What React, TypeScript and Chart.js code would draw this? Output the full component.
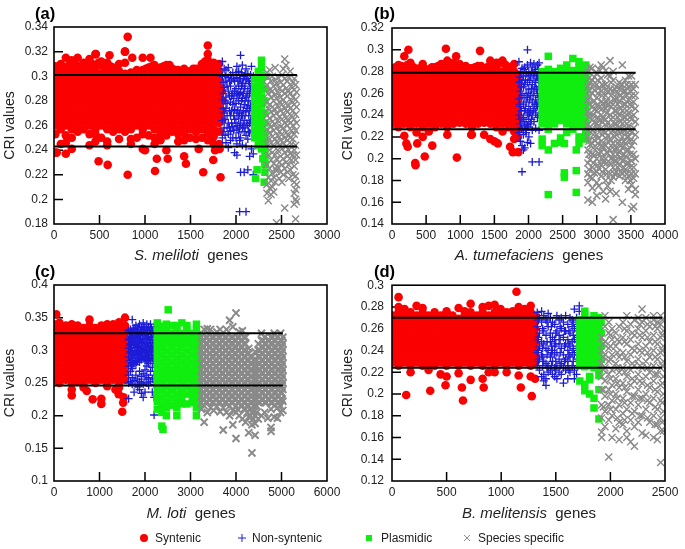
import React, { useEffect, useRef } from "react";
import { Chart, registerables } from "chart.js";
Chart.register(...registerables);

type Cols = number[][];
// every row: x value, then the CRI values (in thousandths) read at about that x
const aRed: Cols = [
[15,238,253,260,266,272,278,284,290,296,302,308],[75,245,257,263,269,275,281,287,293,299,305,310],[130,237,246,252,260,266,272,278,284,290,296,302,307,315],
[195,241,250,257,263,269,275,281,287,293,299,305,313],[260,255,260,266,272,278,284,290,296,302,308,315],[325,257,263,269,275,281,287,293,299,305,311],
[390,244,253,260,266,272,278,284,290,296,302,308,314],[455,247,253,257,263,269,275,281,287,293,299,305,318],[520,250,260,266,272,278,284,290,296,302,309,312],
[585,244,247,257,263,269,275,281,287,293,299,305,311],[650,255,260,266,272,278,284,290,296,302,307],[715,249,257,263,269,275,281,287,293,299,304,310],
[780,255,260,266,272,278,284,290,296,302,311,320],[845,245,249,257,263,269,275,281,287,293,299,303],[910,250,260,266,272,278,284,290,296,302,305],
[975,241,253,257,263,269,275,281,287,293,299,305,315],[1040,252,260,266,272,278,284,290,296,302,307],[1105,245,250,257,263,269,275,281,287,293,299,305,309],
[1170,248,254,260,266,272,278,284,290,296,302,307],[1235,240,252,257,263,269,275,281,287,293,299,305,309],[1300,255,260,266,272,278,284,290,296,302,306],
[1365,247,253,257,263,269,275,281,287,293,299,305],[1430,248,254,260,266,272,278,284,290,296,302,306],[1495,250,257,263,269,275,281,287,293,299,304],
[1560,249,255,260,266,272,278,284,290,296,302,306],[1625,250,257,263,269,275,281,287,293,299,305,310],[1690,248,254,260,266,272,278,284,290,296,302,308,313,318],
[1755,245,251,257,263,269,275,281,287,293,299,305,311],[1815,245,255,262,268,274,280,286,292,298,304,310],[1845,264,272,280,288],
[810,332],[1690,325],[780,320],[460,318],[610,317],[860,315],[1060,315],[490,231],[590,228],[810,220],[1110,223],[1130,233],[1250,233],[1430,235],[1450,229],[1640,222],[1750,232],[1830,218],[30,238],[1000,240],[1590,241],[1770,240],[1820,241],
[45,306],[165,309],[230,310],[290,308],[355,307],[420,310],[490,311],[555,306],[620,308],[685,306],[1010,306],[1075,308],[1140,306],[1205,308],[1270,309],[1335,305],[1400,304],[1530,306],[1595,306],[1660,312],[1725,309]];
const aBlue: Cols = [
[1850,312,300,281,264,250],[1870,306,291,270,258],[1890,305,296,283,274,246],[1915,307,299,288,262,253,242],[1940,301,292,279,268,255,248],[1965,303,286,277,259,250],[1985,296,288,273,265,238],
[2010,308,299,284,270,257,245,236],[2030,304,292,280,266,254],[2050,317,298,287,275,262,250,222],[2070,309,294,282,268,258,244],[2090,300,290,277,264,255,222],[2110,306,297,283,271,252,243,190],
[2130,302,288,276,260,249,224],[2150,294,286,272,262,254,235],[2170,308,296,280,268,256,241],[2190,300,288,276,264,237,220],[2040,190],
[1860,295,286,274,255],[1880,300,280,265,252],[1902,292,278,268,258],[1928,296,284,272,258],[1952,297,284,272,262],[1975,298,282,268,256],[2000,303,290,278,262,250],[2020,296,286,272,260],[2040,298,285,270,258,248],[2060,303,292,280,268],[2080,298,286,272,260],[2100,302,292,280,268,258],[2120,298,284,274,262],[2140,296,280,268,255],[2160,301,290,276,264]];
const aGreen: Cols = [[2205,250,256,262,268,274,280,286,292,298],[2245,244,250,256,262,268,274,280,286,292,298,304],[2280,241,247,253,259,265,271,277,283,289,295,301,307,313],[2318,230,236,242,248,254,262,270,280,290,300,228,222],[2215,217],[2232,224],[2310,214],[2295,233]];
const aGray: Cols = [
[2340,205,212,228,245,257,268,279,293,303],[2355,199,218,236,250,262,274,286,299],[2370,209,225,240,254,266,277,289,305],[2385,204,215,232,246,259,271,283,296],[2400,210,221,238,251,263,275,288,300],
[2415,206,218,229,243,256,268,280,292],[2430,214,225,236,249,261,273,285,297,307],[2445,181,223,233,247,258,270,282,294],[2460,226,240,252,264,276,287,299],[2475,217,230,244,255,267,279,290],
[2490,222,235,248,259,272,283,295],[2505,214,228,241,253,265,277,288,301],[2520,220,233,246,258,270,281,293,306],[2535,193,225,238,250,262,274,286,298,314],[2550,230,243,254,266,278,290,309],
[2565,222,235,248,260,271,284,296],[2580,217,228,240,252,264,276,288,299],[2595,224,237,250,262,274,286,304],[2610,232,245,256,268,280,292],[2625,220,236,249,260,272,283,295],
[2640,196,205,214,227,240,253,265,277,289,298],[2655,184,200,208,219,232,244,256,269,281,293],[2665,198,212,236,262,275,287]];

const bRed: Cols = [
[12,232,238,244,250,256,262,268,274,280],[95,229,235,241,247,253,259,265,271,277,283,286],[180,221,232,238,244,250,256,262,268,274,280,294],[270,229,235,241,247,253,259,265,271,277,283,288],
[360,224,232,238,244,250,256,262,268,274,280],[450,220,229,235,241,247,253,259,265,271,277,283,287],[540,225,232,238,244,250,256,262,268,274,280],[630,229,235,241,247,253,259,265,271,277,284],
[720,232,238,244,250,256,262,268,274,280,287],[810,222,229,235,241,247,253,259,265,271,277,283,290],[900,232,238,244,250,256,262,268,274,280,288],[990,233,235,241,247,253,259,265,271,277,283,287],
[1080,232,238,244,250,256,262,268,274,280,285],[1170,222,229,235,241,247,253,259,265,271,277,283],[1260,232,238,244,250,256,262,268,274,280,285],[1350,222,233,235,241,247,253,259,265,271,277,283],
[1440,218,232,238,244,250,256,262,268,274,280,290],[1530,229,235,241,247,253,259,265,271,277,283,288],[1620,225,232,238,244,250,256,262,268,274,280,290],[1710,229,235,241,247,253,259,265,271,277,284],
[1790,218,225,232,238,244,250,256,262,268,274,280,287],[1845,220,228,235,241,247,253,259,265,271,277],
[240,300],[790,301],[1290,299],[940,294],[345,194],[340,196],[480,202],[950,201],[370,214],[590,212],[230,211],[210,214],[1770,206],[1850,206],[1730,211],[1550,214],[1500,216],[1160,222],
[50,284],[140,285],[225,286],[315,284],[405,283],[495,282],[585,284],[675,285],[765,286],[855,287],[945,285],[1035,284],[1125,283],[1215,284],[1305,285],[1395,284],[1485,287],[1575,288],[1665,286],[1755,284]];
const bBlue: Cols = [
[1860,289,270,255,240,224],[1880,280,262,248,232,216],[1905,283,272,258,236,228,212,188],[1925,276,266,250,238,222,208],[1945,284,268,244,230,210],[1965,278,260,252,234,226,224],
[1985,286,270,256,242,231,215,300],[2005,280,264,248,236,229,220],[2030,288,276,258,244,232,214],[2055,284,268,252,240,226,197],[2080,287,274,262,246,234],[2105,282,270,254,242,228],
[2130,286,276,260,248,238],[2155,288,278,266,252,240,226,197],
[1870,275,250,236],[1895,266,244,228],[1935,282,256,234],[1955,272,246,226],[1995,276,260,240],[2018,272,254,242],[2042,280,264,236],[2068,278,258,244],[2092,280,266,250],[2118,276,264,250],[2145,282,272,256]];
const bGreen: Cols = [
[2200,232,238,244,250,256,262,268,274,280,218,212],[2290,227,233,239,245,251,257,263,269,275,282,208,167,294],[2380,232,238,244,250,256,262,268,274,280,214],[2470,235,241,247,253,259,265,271,277,283,215,219],
[2525,183,187,214],[2560,232,238,244,250,256,262,268,274,280,286,224],[2650,227,233,239,245,251,257,263,269,275,281,292,240],[2700,189,169,208],[2740,230,236,242,248,254,260,266,272,278,284,289,214,220],[2840,226,232,238,244,250,256,262,268,274,280,286,218,224]];
const bGray: Cols = [
[2870,162,178,186,196,208,220,231,243,254,266,280],[2935,160,173,182,192,204,214,226,236,248,260,272,283],[3000,166,178,188,200,210,222,232,244,256,268,278],[3065,184,194,206,216,228,240,252,262,274,286],[3130,163,180,190,200,212,224,236,246,258,268,281],
[3195,170,186,196,208,218,230,240,252,264,276,290],[3240,144,183,192,204,214,226,238,250,262,272,280],[3285,168,188,198,210,222,232,244,256,266],[3330,184,194,206,216,228,240,252,264,270],[3375,160,186,198,210,220,232,244,256,268,286],
[3420,180,190,202,214,226,238,250,262,272],[3465,172,184,196,208,220,230,242,254,266,276],[3510,154,176,186,198,212,224,236,248,258,268,276],[3540,156,182,192,204,216,228,240,252,264],[3565,167,172,186,200,222,234,246,258,268],
[2900,183,199,213,229,241,257,269,284],[2965,187,203,217,233,245,263,275],[3030,175,191,205,219,235,247,265,282],[3095,170,197,211,225,237,251,267,284],[3160,175,205,221,233,249,261,277],
[2885,190,204,216,226,238,250,262,274],[2950,196,210,222,240,252,268],[3015,194,214,228,238,250,260,272],[3080,188,200,212,222,234,246,258,268],[3145,186,196,206,218,230,242,252,264],[3210,180,200,212,224,236,248,258,270],[3262,186,198,208,220,232,244,254,264],[3308,192,204,214,226,238,250,260],[3352,188,200,212,224,234,246,258,268],[3398,192,204,216,226,238,250,262],[3442,186,196,208,220,232,244,258,268],[3490,180,192,204,216,226,238,250,262]];

const cRed: Cols = [
[8,255,266,276,287,297,308,318,329,340],[120,250,260,271,281,292,302,313,323,334,342],[260,255,266,276,287,297,308,318,329,338],[390,231,240,250,260,271,281,292,302,313,323,334,340],
[520,252,260,266,276,287,297,308,318,329,338],[650,243,250,260,271,281,292,302,313,323,334],[780,255,266,276,287,297,308,318,329,338,347],[910,250,260,271,281,292,302,313,323,334],[1040,218,226,255,266,276,287,297,308,318,329,338],
[1170,245,250,260,271,281,292,302,313,323,334,340],[1300,255,266,276,287,297,308,318,329,340],[1430,243,250,260,271,281,292,302,313,323,334,343],[1560,255,266,276,287,297,308,318,329,338,350],
[50,355],[1500,206],[1520,220],[1530,228],[720,238],[850,225],[1420,233],[1350,240]];
const cBlue: Cols = [
[1640,226,250,262,276,290,303,316,330],[1680,252,268,282,296,310,322,332],[1720,248,258,272,285,299,312,326,347],[1760,236,254,280,292,304,318,330],[1800,248,262,278,288,300,314,326,338],
[1840,244,256,284,294,306,320,332],[1880,240,252,268,282,297,310,324,340],[1920,234,250,260,286,298,312,328,335],[1960,228,248,264,290,302,316,330,342],[2000,236,256,270,284,296,308,322,334],
[2040,250,262,276,292,304,318,332,340],[2080,246,258,280,294,306,320,336],[2120,252,268,284,298,312,326,340],[2160,236,256,274,288,302,316,330],[2200,201,228,248,262,280,294,308,322,336],
[1660,284,298,308,318,326],[1700,276,290,304,316,328],[1740,280,294,308,320,334],[1780,284,298,310,322,334],[1820,282,296,308,318,328],[1860,288,300,312,324,336],[1900,290,302,316,328],[1940,292,304,318,332],[1980,288,300,312,324,336],[2020,286,298,310,326],[2060,284,296,312,324],[2100,288,302,316,330],[2140,292,304,320,334],[2180,286,298,310,326]];
const cGreen: Cols = [
[2270,210,222,232,243,254,265,276,287,298,309,320,331,342],[2370,184,205,216,227,238,249,260,271,282,293,304,315,326,337],[2395,179],[2470,200,212,222,233,244,255,266,277,288,299,310,321,332,340],[2510,362],
[2590,216,227,238,249,260,271,282,293,304,315,326,338],[2700,200,212,222,233,244,255,266,277,288,299,310,321,332,338],[2810,218,228,238,249,260,271,282,293,304,315,326,342],[2920,218,233,244,255,266,277,288,299,310,321,332,338],
[3040,220,228,238,249,260,271,282,293,304,315,326],[3130,200,212,222,233,244,255,266,277,288,299,310,321,332,340],[3190,214,225,236,247,258,269,280,291,302,313,324]];
const cGray: Cols = [
[3240,210,220,230,240,250,260,270,280,290,300,310,320],[3300,190,215,225,235,245,255,265,275,285,295,305,315,332],[3370,205,220,230,240,250,260,270,280,290,300,310,320,333],[3440,212,225,235,245,255,265,275,285,295,305,315,332],
[3510,208,220,230,240,250,260,270,280,290,300,310,320],[3580,214,225,235,245,255,265,275,285,295,305,315,328],[3650,206,220,230,240,250,260,270,280,290,300,310,320,332],[3720,178,212,225,235,245,255,265,275,285,295,305,315],
[3790,205,220,230,240,250,260,270,280,290,300,310,320,332],[3860,200,215,225,235,245,255,265,275,285,295,305,315,346],[3930,186,208,220,230,240,250,260,270,280,290,300,310,320,336],[4000,165,205,215,225,235,245,255,265,275,285,295,305,315,357],
[4070,200,220,230,240,250,260,270,280,290,300,310,320,328],[4140,195,215,225,235,245,255,265,275,285,295,305,315,330],[4210,190,210,220,230,240,250,260,270,280,290,300,310,320],[4280,174,198,215,225,235,245,255,265,275,285,295,303],
[4350,143,186,205,220,230,240,250,260,270,280,290],[4420,170,188,200,215,225,235,245,255,265,275,285,298],[4490,195,220,230,240,250,260,270,280,290,300,310],[4560,200,225,235,245,255,265,275,285,295,305,315,326],
[4630,205,220,230,240,250,260,270,280,290,300,310,320],[4700,196,225,235,245,255,265,275,285,295,305,315],[4770,176,182,210,220,230,240,250,260,270,280,290,300,310,320],[4840,198,215,225,235,245,255,265,275,285,295,305,315,326],
[4910,196,212,220,230,240,250,260,270,280,290,300,310,320],[4980,205,215,225,235,245,255,265,275,285,295,305,315,326],[5030,208,222,240,250,260,270,280,290,300,310,320],
[3270,225,235,245,255,265,275,285,295,305,315],[3335,220,230,240,250,260,270,280,290,300,310,320],[3405,225,235,245,255,265,275,285,295,305,315],[3475,220,230,240,250,260,270,280,290,300,310,320],[3545,225,235,245,255,265,275,285,295,305,315],[3615,220,230,240,250,260,270,280,290,300,310,320],
[3685,225,235,245,255,265,275,285,295,305,315],[3755,220,230,240,250,260,270,280,290,300,310,320],[3825,225,235,245,255,265,275,285,295,305,315],[3895,220,230,240,250,260,270,280,290,300,310,320],[3965,225,235,245,255,265,275,285,295,305,315],[4035,210,220,230,240,250,260,270,280,290,300,310,320],
[4105,215,225,235,245,255,265,275,285,295,305,315],[4175,210,220,230,240,250,260,270,280,290,300,310,320],[4245,205,215,225,235,245,255,265,275,285,295],[4315,200,210,220,230,240,250,260,270,280,290],[4385,195,205,215,225,235,245,255,265,275,285],[4455,205,215,225,235,245,255,265,275,285],
[4525,220,230,240,250,260,270,280,290,300],[4595,225,235,245,255,265,275,285,295,305,315],[4665,220,230,240,250,260,270,280,290,300,310],[4735,225,235,245,255,265,275,285,295,305,315],[4805,220,230,240,250,260,270,280,290,300,310,320],[4875,225,235,245,255,265,275,285,295,305,315],[4945,220,230,240,250,260,270,280,290,300,310],[5010,225,235,245,255,265,275,285,295,305,315]];

const dRed: Cols = [
[5,229,235,241,247,254,260,266,272],[60,226,232,238,244,250,257,263,269,275,280,289],[115,229,235,241,247,254,260,266,272,278],[170,220,226,232,238,244,250,257,263,269,275],[225,229,235,241,247,254,260,266,272,281],
[280,226,232,238,244,250,257,263,269,275,279],[335,222,229,235,241,247,254,260,266,272],[390,226,232,238,244,250,257,263,269,275],[445,218,229,235,241,247,254,260,266,272],[500,216,226,232,238,244,250,257,263,269,276],
[555,229,235,241,247,254,260,266,272],[610,219,226,232,238,244,250,257,263,269,279],[665,229,235,241,247,254,260,266,272,276],[720,213,226,232,238,244,250,257,263,269,275,283],[775,229,235,241,247,254,260,266,272],
[830,214,226,232,238,244,250,257,263,269,275,280],[885,220,229,235,241,247,254,260,266,272,281],[940,220,226,232,238,244,250,257,263,269,275,282],[995,229,235,241,247,254,260,266,272,278],[1050,220,226,232,238,244,250,257,263,269,275],
[1105,229,235,241,247,254,260,266,272,276],[1160,217,226,232,238,244,250,257,263,269,275,280],[1215,229,235,241,247,254,260,266,272,278],[1270,216,226,232,238,244,250,257,263,269,275,281],[1310,214,229,235,241,247,254,260,266,272],
[1140,294],[130,199],[350,203],[490,208],[640,206],[650,194],[840,206],[1180,206],[1280,198]];
const dBlue: Cols = [
[1330,275,262,250,238,226],[1350,270,256,244,232,222],[1370,276,266,248,236,216],[1390,272,258,246,230,218,212],[1410,268,254,242,228,214,208],[1430,274,262,240,226,220],[1450,270,256,248,234,222],
[1470,266,252,240,230,218],[1490,264,250,244,236,224,216],[1510,272,258,238,226,214],[1530,268,254,246,232,220],[1550,270,260,242,228,218],[1570,266,252,236,224,210],[1590,272,258,246,232,222],
[1610,264,250,240,230,226,214],[1630,270,256,244,234,220],[1650,268,262,248,238,226],[1670,278,260,250,236,222,214],[1690,270,258,244,232,218],[1715,281,276,264,248,236],
[1340,268,252,240,230],[1380,260,242,234,226],[1420,266,248,236,224],[1460,262,244,238,226],[1500,256,246,230,222],[1540,262,250,238,226],[1580,258,244,230],[1620,258,246,236,222],[1660,266,254,242,230],[1700,264,252,240,226]];
const dGreen: Cols = [
[1720,226,232,238,244,250,256,262,268,212],[1765,225,231,237,243,249,255,261,267,273,276,203,209],[1810,226,232,238,244,250,256,262,268,216,200,213],[1850,224,230,236,242,248,254,260,266,272,187,196],[1895,222,228,234,240,246,252,258,264,270,217,204,177],[1915,232,244,256,266]];
const dGray: Cols = [
[1920,160,165,178,190,204,216,228,240,252],[1950,170,184,198,212,224,236,248,262,272],[1985,142,176,190,204,218,230,242,256,266],[2015,160,180,194,208,222,236,250,260],[2050,168,186,200,214,228,244,256],
[2080,158,174,190,206,220,234,248,262],[2115,172,182,196,210,224,238,252,266],[2150,160,166,186,202,216,230,246,258,272],[2185,156,176,192,208,222,236,250,264],[2220,152,170,184,198,212,226,240,254,268],
[2255,174,190,204,218,232,246,260,270],[2290,164,180,196,210,224,238,252,266,278],[2325,162,186,200,216,230,244,258,270],[2360,174,192,206,220,234,248,262],[2395,160,180,196,212,226,240,254,268,272],
[2430,158,172,186,202,218,232,246,260,266],[2460,137,166,178,194,208,224,238,252,264,272],[2485,166,184,200,216,230,244,258],
[1935,188,204,222,234,246],[2000,186,200,214,232,244,254],[2065,178,196,210,224,238,250],[2130,176,192,206,220,234,248,260],[2200,182,198,214,228,242,256],[2270,180,196,212,226,240,254,264],[2340,178,194,208,224,238,252,264],[2410,172,188,204,218,234,248,262],[2475,174,192,210,226,240,254,268]];

const aMeans = [301, 243];
const bMeans = [279, 227];
const cMeans = [326, 246];
const dMeans = [270, 224];
const lineEnds = [2670, 3570, 5030, 2475];
const aYTicks = [0.18,0.2,0.22,0.24,0.26,0.28,0.3,0.32,0.34];
const bYTicks = [0.14,0.16,0.18,0.2,0.22,0.24,0.26,0.28,0.3,0.32];
const cYTicks = [0.1,0.15,0.2,0.25,0.3,0.35,0.4];
const dYTicks = [0.12,0.14,0.16,0.18,0.2,0.22,0.24,0.26,0.28,0.3];
const aXTicks = [0,500,1000,1500,2000,2500,3000];
const bXTicks = [0,500,1000,1500,2000,2500,3000,3500,4000];
const cXTicks = [0,1000,2000,3000,4000,5000,6000];
const dXTicks = [0,500,1000,1500,2000,2500];
const seriesNames = ["Syntenic","Non-syntenic","Plasmidic","Species specific"];

const FONT = "'Liberation Sans', Arial, sans-serif";
const expand = (cols: Cols) => cols.flatMap(([x, ...ys]) => ys.map((y) => ({ x, y: y / 1000 })));

const frame = {
  id: "frame",
  beforeDatasetsDraw(c: any) {
    const g = c.ctx, a = c.chartArea, xs = c.scales.x, ys = c.scales.y;
    g.save(); g.strokeStyle = "#000"; g.lineWidth = 1.5; g.beginPath();
    xs.ticks.slice(1, -1).forEach((t: any) => { const p = xs.getPixelForValue(t.value); g.moveTo(p, a.bottom); g.lineTo(p, a.bottom - 9); });
    ys.ticks.slice(1, -1).forEach((t: any) => { const p = ys.getPixelForValue(t.value); g.moveTo(a.left, p); g.lineTo(a.left + 9, p); });
    g.stroke(); g.restore();
  },
  afterDraw(c: any) {
    const g = c.ctx, a = c.chartArea;
    g.save(); g.strokeStyle = "#000"; g.lineWidth = 1.6;
    g.strokeRect(a.left, a.top, a.right - a.left, a.bottom - a.top); g.restore();
  },
};

type P = { left: number; top: number; w: number; h: number; yW: number; yPad: number; titlePad: number; xH: number; padT: number; padR: number; grayW: number;
  red: Cols; blue: Cols; green: Cols; gray: Cols; means: number[]; end: number; xT: number[]; yT: number[] };

const panels: P[] = [
  { left: 0, top: 0, w: 350, h: 270, yW: 54, yPad: 6, titlePad: 2, xH: 46, padT: 27, padR: 23, grayW: 1.4, red: aRed, blue: aBlue, green: aGreen, gray: aGray, means: aMeans, end: lineEnds[0], xT: aXTicks, yT: aYTicks },
  { left: 340, top: 0, w: 345, h: 270, yW: 52, yPad: 8, titlePad: 0, xH: 46, padT: 28, padR: 20, grayW: 1.5, red: bRed, blue: bBlue, green: bGreen, gray: bGray, means: bMeans, end: lineEnds[1], xT: bXTicks, yT: bYTicks },
  { left: 0, top: 270, w: 350, h: 279, yW: 54, yPad: 6, titlePad: 2, xH: 68, padT: 15, padR: 23, grayW: 2, red: cRed, blue: cBlue, green: cGreen, gray: cGray, means: cMeans, end: lineEnds[2], xT: cXTicks, yT: cYTicks },
  { left: 340, top: 270, w: 345, h: 279, yW: 52, yPad: 8, titlePad: 0, xH: 68, padT: 15, padR: 20, grayW: 1.4, red: dRed, blue: dBlue, green: dGreen, gray: dGray, means: dMeans, end: lineEnds[3], xT: dXTicks, yT: dYTicks },
];

const tickFont = { family: FONT, size: 12 };

function Panel({ p }: { p: P }) {
  const ref = useRef<HTMLCanvasElement>(null);
  useEffect(() => {
    const mark = (name: string, cols: Cols, order: number, style: string, r: number, color: string, bw: number) => ({
      label: name, data: expand(cols), order, pointStyle: style, pointRadius: r, pointBorderWidth: bw,
      pointBackgroundColor: color, pointBorderColor: color, showLine: false,
    });
    const chart = new Chart(ref.current!, {
      type: "scatter",
      data: {
        datasets: [
          mark(seriesNames[0], p.red, 4, "circle", 4.3, "#fb0000", 0),
          mark(seriesNames[1], p.blue, 3, "cross", 4, "#1c1cd8", 1.3),
          mark(seriesNames[2], p.green, 2, "rect", 5.3, "#10ee10", 0),
          mark(seriesNames[3], p.gray, 1, "crossRot", 5, "#8a8a8a", p.grayW),
          ...p.means.map((m) => ({
            label: "mean", data: [{ x: 0, y: m / 1000 }, { x: p.end, y: m / 1000 }], order: 0,
            showLine: true, pointRadius: 0, borderColor: "#000", borderWidth: 2,
          })),
        ] as any,
      },
      options: {
        animation: false, responsive: false,
        layout: { padding: { top: p.padT, right: p.padR, left: 0, bottom: 0 } },
        plugins: { legend: { display: false }, tooltip: { enabled: false } },
        scales: {
          x: {
            type: "linear", min: p.xT[0], max: p.xT[p.xT.length - 1],
            afterBuildTicks: (s: any) => { s.ticks = p.xT.map((value) => ({ value })); },
            afterFit: (s: any) => { s.height = p.xH; },
            grid: { display: false, drawTicks: false }, border: { display: false },
            ticks: { font: tickFont, color: "#222", padding: 4, maxRotation: 0, autoSkip: false, callback: (v: any) => String(v) },
          },
          y: {
            type: "linear", min: p.yT[0], max: p.yT[p.yT.length - 1],
            afterBuildTicks: (s: any) => { s.ticks = p.yT.map((value) => ({ value })); },
            afterFit: (s: any) => { s.width = p.yW; },
            grid: { display: false, drawTicks: false }, border: { display: false },
            title: { display: true, text: "CRI values", font: { family: FONT, size: 14 }, color: "#222", padding: { top: p.titlePad, bottom: 0 } },
            ticks: { font: tickFont, color: "#222", padding: p.yPad, autoSkip: false, callback: (v: any) => String(Number(Number(v).toFixed(2))) },
          },
        },
      } as any,
      plugins: [frame],
    });
    return () => chart.destroy();
  }, []);
  return <canvas ref={ref} width={p.w} height={p.h} style={{ position: "absolute", left: p.left, top: p.top, width: p.w, height: p.h }} />;
}

const textAt = (x: number, y: number, extra: any = {}): any => ({
  position: "absolute", left: x, top: y, transform: "translateY(-50%)", whiteSpace: "pre", fontFamily: FONT, color: "#222", lineHeight: 1, ...extra,
});
const centred = { transform: "translate(-50%,-50%)", fontSize: 15 };
const tag = { fontWeight: "bold", fontSize: 16.5, color: "#000" };
const leg = { fontSize: 12 };

export default function App() {
  return (
    <div style={{ position: "absolute", left: 0, top: 0, width: 685, height: 549, background: "#fff", overflow: "hidden" }}>
      {panels.map((p, i) => <Panel key={i} p={p} />)}
      <div style={textAt(35, 13, tag)}>(a)</div>
      <div style={textAt(374, 13, tag)}>(b)</div>
      <div style={textAt(35, 271, tag)}>(c)</div>
      <div style={textAt(374, 271, tag)}>(d)</div>
      <div style={textAt(191, 254, centred)}><i>S. meliloti</i>  genes</div>
      <div style={textAt(529, 254, centred)}><i>A. tumefaciens</i>  genes</div>
      <div style={textAt(191, 512, centred)}><i>M. loti</i>  genes</div>
      <div style={textAt(529, 512, centred)}><i>B. melitensis</i>  genes</div>
      <svg width={685} height={20} style={{ position: "absolute", left: 0, top: 528 }}>
        <circle cx={144} cy={10} r={4} fill="#fb0000" />
        <path d="M238 10h8M242 6v8" stroke="#1c1cd8" strokeWidth={1} />
        <rect x={366} y={7} width={6} height={6} fill="#10ee10" />
        <path d="M464 7l6 6M470 7l-6 6" stroke="#8a8a8a" strokeWidth={1} />
      </svg>
      <div style={textAt(155, 538, leg)}>{seriesNames[0]}</div>
      <div style={textAt(252, 538, leg)}>{seriesNames[1]}</div>
      <div style={textAt(381, 538, leg)}>{seriesNames[2]}</div>
      <div style={textAt(478, 538, leg)}>{seriesNames[3]}</div>
    </div>
  );
}
